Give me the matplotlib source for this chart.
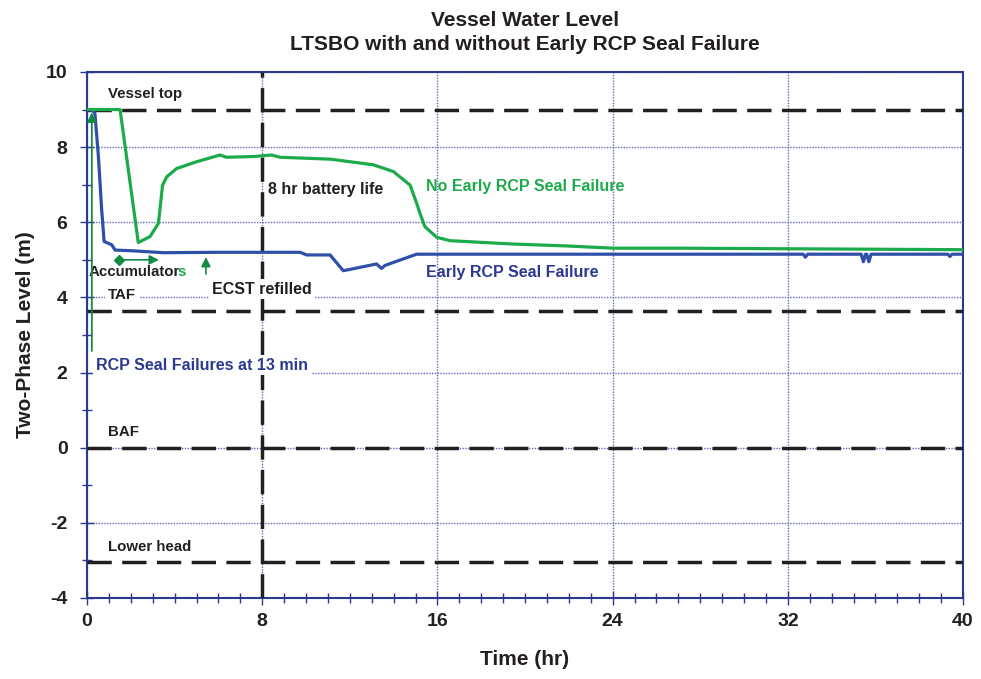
import matplotlib.pyplot as plt
from matplotlib.ticker import MultipleLocator

# no early RCP seal failure (green)
t_green = [0, 1.51, 2.34, 2.88, 3.26, 3.45, 3.64, 4.09, 5.0, 6.07, 6.37, 7.6, 8.43, 8.81,
           11.1, 13.07, 13.99, 14.75, 15.05, 15.2, 15.43, 15.97, 16.58, 19.46, 21.9, 24.03, 27.1, 40]
lvl_green = [9.0, 9.0, 5.46, 5.62, 5.97, 6.99, 7.21, 7.43, 7.61, 7.79, 7.73, 7.75, 7.79, 7.73,
             7.68, 7.53, 7.35, 6.99, 6.51, 6.24, 5.88, 5.6, 5.51, 5.42, 5.37, 5.31, 5.31, 5.27]

# early RCP seal failure (blue)
t_blue = [0, 0.21, 0.36, 0.52, 0.67, 0.78, 1.13, 1.28, 2.11, 3.48, 5.77, 9.73, 10.03, 11.1,
          11.7, 13.22, 13.45, 13.6, 15.05, 32.7, 32.8, 32.9, 35.35, 35.45, 35.55, 35.6, 35.7, 35.8,
          39.3, 39.4, 39.5, 40]
lvl_blue = [9.0, 9.0, 8.9, 7.75, 6.33, 5.49, 5.4, 5.26, 5.24, 5.19, 5.2, 5.2, 5.13, 5.13,
            4.71, 4.89, 4.77, 4.85, 5.15, 5.15, 5.07, 5.15, 5.15, 4.95, 5.15, 5.15, 4.95, 5.15,
            5.15, 5.09, 5.15, 5.15]

# reference levels
ref_levels = [9.0, 3.65, 0.0, -3.05]
ref_names = ['Vessel top', 'TAF', 'BAF', 'Lower head']
battery_hr = 8

navy = '#2B3990'
blue = '#2E50A8'
green = '#1DAA4B'
dkgreen = '#138A45'
dark = '#231F20'

plt.rcParams['font.family'] = ['Liberation Sans', 'DejaVu Sans']
plt.rcParams['font.weight'] = 'bold'
plt.rcParams['axes.unicode_minus'] = False

fig = plt.figure(figsize=(9.81, 6.79), dpi=100)
ax = fig.add_axes([0.0887, 0.1193, 0.893, 0.7747])

ax.set_xlim(0, 40); ax.set_ylim(-4, 10)
ax.xaxis.set_major_locator(MultipleLocator(8)); ax.xaxis.set_minor_locator(MultipleLocator(1))
ax.yaxis.set_major_locator(MultipleLocator(2)); ax.yaxis.set_minor_locator(MultipleLocator(1))
ax.tick_params(which='both', direction='inout', color=navy, width=1)
ax.tick_params(which='major', length=10, labelsize=14, labelcolor=dark)
ax.tick_params(which='minor', length=7)
ax.tick_params(axis='y', which='major', pad=9)
ax.tick_params(axis='x', which='major', pad=6)
for s in ax.spines.values():
    s.set_color(navy); s.set_linewidth(1.5)
ax.grid(True, which='major', color='#6068B8', linestyle=(0, (1, 1)), linewidth=1.0)

for lv in ref_levels:
    ax.axhline(lv, color=dark, lw=2.5, dashes=(7, 3), zorder=3)
ax.axvline(battery_hr, color=dark, lw=2.5, dashes=(7, 3), zorder=3)

ax.plot(t_blue, lvl_blue, color=blue, lw=2.3, zorder=4)
ax.plot(t_green, lvl_green, color=green, lw=2.3, zorder=5)

fs = 11.5
box = dict(facecolor='white', edgecolor='none', pad=2)
for lv, name in zip(ref_levels, ref_names):
    ax.text(0.96, lv + 0.42, name, fontsize=10.8, color=dark, va='center', ha='left',
            bbox=box if name == 'TAF' else None, zorder=6)
ax.text(8.26, 6.86, '8 hr battery life', fontsize=fs, color=dark, va='center', zorder=6)
ax.text(15.48, 6.94, 'No Early RCP Seal Failure', fontsize=fs, color=green, va='center', zorder=6)
ax.text(15.48, 4.65, 'Early RCP Seal Failure', fontsize=fs, color=navy, va='center', zorder=6)
ax.text(5.7, 4.22, 'ECST refilled', fontsize=fs, color=dark, va='center', bbox=box, zorder=6)
ax.text(0.41, 2.2, 'RCP Seal Failures at 13 min', fontsize=fs, color=navy, va='center',
        bbox=box, zorder=6)
t = ax.text(0.09, 4.68, 'Accumulator', fontsize=10.8, color=dark, va='center', zorder=6)
fig.canvas.draw()
x_end = ax.transData.inverted().transform(t.get_window_extent().p1)[0]
ax.text(x_end - 0.12, 4.68, 's', fontsize=10.8, color=green, va='center', zorder=6)

# arrows
ax.annotate('', xy=(0.22, 9.0), xytext=(0.22, 2.5),
            arrowprops=dict(arrowstyle='-|>', color=dkgreen, lw=1.3, mutation_scale=14), zorder=6)
ax.annotate('', xy=(5.43, 5.15), xytext=(5.43, 4.55),
            arrowprops=dict(arrowstyle='-|>', color=dkgreen, lw=1.2, mutation_scale=14), zorder=6)
ax.annotate('', xy=(3.41, 5.0), xytext=(1.46, 5.0),
            arrowprops=dict(arrowstyle='-|>', color=dkgreen, lw=1.2, mutation_scale=14), zorder=6)
ax.plot([1.46], [5.0], marker='D', color=dkgreen, ms=5, zorder=6)

ax.set_xlabel('Time (hr)', fontsize=15, fontweight='bold', color=dark, labelpad=14)
ax.set_ylabel('Two-Phase Level (m)', fontsize=15, fontweight='bold', color=dark, labelpad=8)
ax.set_title('Vessel Water Level\nLTSBO with and without Early RCP Seal Failure',
             fontsize=15, fontweight='bold', color=dark, pad=16, linespacing=1.3)

fig.savefig('out.png', dpi=100)
